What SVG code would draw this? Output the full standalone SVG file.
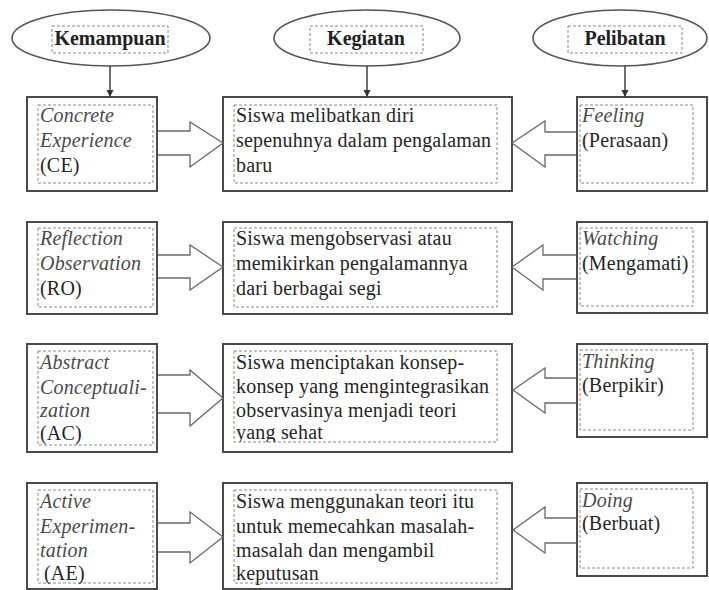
<svg xmlns="http://www.w3.org/2000/svg" width="709" height="590" viewBox="0 0 709 590">
<defs>
<style>
.bg{fill:#ffffff}
.ell{fill:#ffffff;stroke:#555555;stroke-width:1.6}
.box{fill:#ffffff;stroke:#4a4a4a;stroke-width:2}
.dash{fill:none;stroke:#8a8a8a;stroke-width:1;stroke-dasharray:3 2}
.hd{font-family:'Liberation Serif','DejaVu Serif',serif;font-size:20px;font-weight:bold;fill:#222222;text-anchor:middle}
.t{font-family:'Liberation Serif','DejaVu Serif',serif;font-size:20px;fill:#262626;letter-spacing:0.2px}
.i{font-style:italic;fill:#4a4a4a}
.conn{fill:none;stroke:#333333;stroke-width:1.4}
.blk{fill:#ffffff;stroke:#6a6a6a;stroke-width:1.3;stroke-linejoin:miter}
</style>
<marker id="ah" viewBox="0 0 10 10" refX="10" refY="5" markerWidth="7" markerHeight="8" markerUnits="userSpaceOnUse" orient="auto">
<path d="M0,0 L10,5 L0,10 Z" fill="#333333"/>
</marker>
<clipPath id="clipAC"><rect x="234" y="351" width="263" height="91"/></clipPath>
</defs>
<rect class="bg" x="0" y="0" width="709" height="590"/>

<g id="hdr-kemampuan">
<ellipse class="ell" cx="111" cy="38" rx="99" ry="28"/>
<rect class="dash" x="52" y="26" width="116" height="27"/>
<text class="hd" x="110" y="45">Kemampuan</text>
</g>
<g id="hdr-kegiatan">
<ellipse class="ell" cx="367" cy="38" rx="93" ry="28"/>
<rect class="dash" x="310" y="26" width="113" height="27"/>
<text class="hd" x="366" y="45">Kegiatan</text>
</g>
<g id="hdr-pelibatan">
<ellipse class="ell" cx="620" cy="38" rx="87" ry="28"/>
<rect class="dash" x="568" y="26" width="114" height="27"/>
<text class="hd" x="625" y="45">Pelibatan</text>
</g>

<!-- Row 1 -->
<g id="ce">
<rect class="box" x="27" y="97" width="130" height="94"/>
<rect class="dash" x="38" y="105" width="115" height="78"/>
<text class="t" x="40" y="122"><tspan class="i">Concrete</tspan><tspan class="i" x="40" dy="25">Experience</tspan><tspan x="40" dy="25">(CE)</tspan></text>
</g>
<g id="keg1">
<rect class="box" x="223" y="97" width="289" height="94"/>
<rect class="dash" x="234" y="105" width="263" height="78"/>
<text class="t" x="236" y="122">Siswa melibatkan diri<tspan x="236" dy="25">sepenuhnya dalam pengalaman</tspan><tspan x="236" dy="25">baru</tspan></text>
</g>
<g id="feeling">
<rect class="box" x="577" y="97" width="130" height="94"/>
<rect class="dash" x="580" y="105" width="113" height="78"/>
<text class="t" x="582" y="122"><tspan class="i">Feeling</tspan><tspan x="582" dy="25">(Perasaan)</tspan></text>
</g>

<!-- Row 2 -->
<g id="ro">
<rect class="box" x="27" y="222" width="130" height="92"/>
<rect class="dash" x="38" y="228" width="115" height="79"/>
<text class="t" x="40" y="245"><tspan class="i">Reflection</tspan><tspan class="i" x="40" dy="25">Observation</tspan><tspan x="40" dy="25">(RO)</tspan></text>
</g>
<g id="keg2">
<rect class="box" x="223" y="222" width="289" height="92"/>
<rect class="dash" x="234" y="228" width="263" height="79"/>
<text class="t" x="236" y="245">Siswa mengobservasi atau<tspan x="236" dy="25">memikirkan pengalamannya</tspan><tspan x="236" dy="25">dari berbagai segi</tspan></text>
</g>
<g id="watching">
<rect class="box" x="577" y="222" width="130" height="91"/>
<rect class="dash" x="580" y="228" width="113" height="78"/>
<text class="t" x="582" y="245"><tspan class="i">Watching</tspan><tspan x="582" dy="25">(Mengamati)</tspan></text>
</g>

<!-- Row 3 -->
<g id="ac">
<rect class="box" x="27" y="344" width="130" height="108"/>
<rect class="dash" x="38" y="351" width="115" height="94"/>
<text class="t" x="40" y="369"><tspan class="i">Abstract</tspan><tspan class="i" x="40" dy="25">Conceptuali-</tspan><tspan class="i" x="40" dy="23">zation</tspan><tspan x="40" dy="23">(AC)</tspan></text>
</g>
<g id="keg3">
<rect class="box" x="223" y="344" width="289" height="108"/>
<rect class="dash" x="234" y="351" width="263" height="91"/>
<text class="t" x="236" y="369" clip-path="url(#clipAC)">Siswa menciptakan konsep-<tspan x="236" dy="24">konsep yang mengintegrasikan</tspan><tspan x="236" dy="24">observasinya menjadi teori</tspan><tspan x="236" dy="22">yang sehat</tspan></text>
</g>
<g id="thinking">
<rect class="box" x="577" y="344" width="130" height="93"/>
<rect class="dash" x="580" y="350" width="113" height="80"/>
<text class="t" x="582" y="368"><tspan class="i">Thinking</tspan><tspan x="582" dy="24">(Berpikir)</tspan></text>
</g>

<!-- Row 4 -->
<g id="ae">
<rect class="box" x="27" y="483" width="130" height="106"/>
<rect class="dash" x="38" y="490" width="115" height="93"/>
<text class="t" x="40" y="508"><tspan class="i">Active</tspan><tspan class="i" x="40" dy="25">Experimen-</tspan><tspan class="i" x="40" dy="24">tation</tspan><tspan x="44" dy="23">(AE)</tspan></text>
</g>
<g id="keg4">
<rect class="box" x="223" y="483" width="289" height="106"/>
<rect class="dash" x="234" y="490" width="263" height="93"/>
<text class="t" x="236" y="508">Siswa menggunakan teori itu<tspan x="236" dy="25">untuk memecahkan masalah-</tspan><tspan x="236" dy="24">masalah dan mengambil</tspan><tspan x="236" dy="23">keputusan</tspan></text>
</g>
<g id="doing">
<rect class="box" x="577" y="483" width="130" height="93"/>
<rect class="dash" x="580" y="489" width="113" height="79"/>
<text class="t" x="582" y="507"><tspan class="i">Doing</tspan><tspan x="582" dy="23">(Berbuat)</tspan></text>
</g>

<g id="connectors">
<line class="conn" x1="110" y1="66" x2="110" y2="97" marker-end="url(#ah)"/>
<line class="conn" x1="367" y1="66" x2="367" y2="97" marker-end="url(#ah)"/>
<line class="conn" x1="625" y1="66" x2="625" y2="97" marker-end="url(#ah)"/>

<path class="blk" d="M158,131 L190,131 L190,122 L223,143 L190,167 L190,155 L158,155"/>
<path class="blk" d="M576,132 L545,132 L545,121 L512,143 L545,167 L545,155 L576,155"/>

<path class="blk" d="M158,255 L190,255 L190,245 L223,267 L190,290 L190,278 L158,278"/>
<path class="blk" d="M576,255 L543,255 L543,245 L512,267 L543,290 L543,279 L576,279"/>

<path class="blk" d="M158,375 L190,375 L190,370 L223,398 L190,426 L190,413 L158,413"/>
<path class="blk" d="M576,378 L545,378 L545,368 L513,390 L545,413 L545,403 L576,403"/>

<path class="blk" d="M158,523 L190,523 L190,512 L223,537 L190,563 L190,552 L158,552"/>
<path class="blk" d="M576,518 L545,518 L545,507 L513,530 L545,553 L545,543 L576,543"/>
</g>
</svg>
